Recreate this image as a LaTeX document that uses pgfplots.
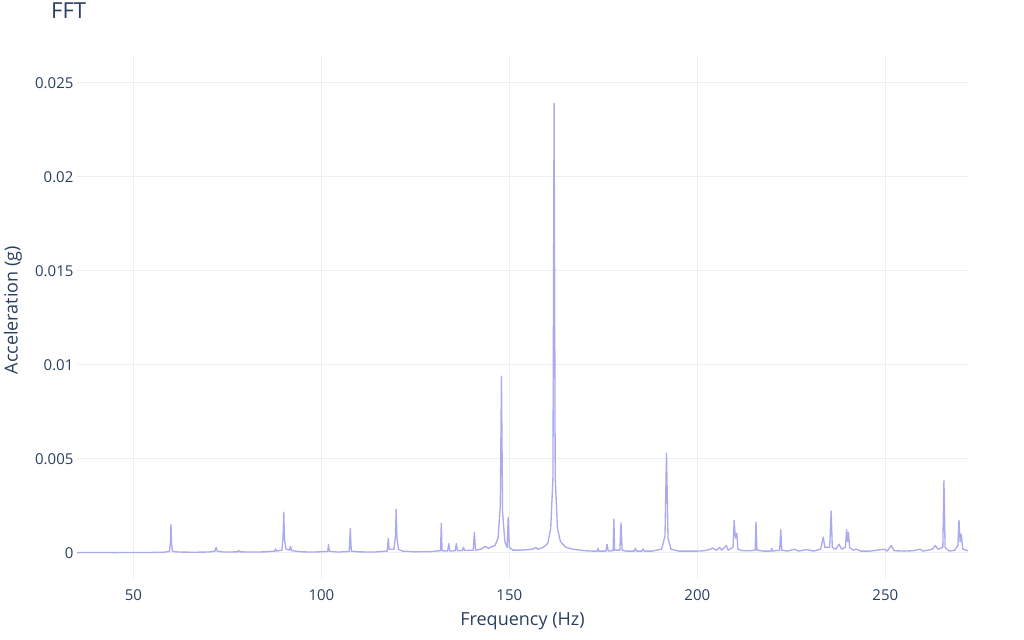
\documentclass[border=0pt]{standalone}
\usepackage{fontspec}
\setmainfont{Open Sans}
\usepackage{pgfplots}
\pgfplotsset{compat=1.18}
\definecolor{txt}{RGB}{42,63,95}
\definecolor{gridc}{RGB}{236,239,244}
\definecolor{linec}{RGB}{170,170,240}
\begin{document}
\begin{tikzpicture}
\path[use as bounding box] (0,0) rectangle (768pt,479.25pt);
\begin{axis}[
  at={(57.75pt,45.75pt)}, anchor=south west,
  scale only axis, width=668.25pt, height=391.5pt,
  xmin=35, xmax=272, ymin=-0.00133, ymax=0.02642,
  axis line style={draw=none},
  major tick length=0pt,
  xtick={50,100,150,200,250},
  ytick={0,0.005,0.01,0.015,0.02,0.025},
  yticklabels={0,0.005,0.01,0.015,0.02,0.025},
  scaled y ticks=false,
  grid=major, grid style={gridc, line width=0.75pt},
  /pgf/number format/assume math mode=true,
  tick label style={font=\fontsize{11.25}{13}\selectfont, text=txt},
  xticklabel style={anchor=center, yshift=-12.5pt},
  yticklabel style={anchor=east, inner sep=0pt, xshift=-2.5pt},
  xlabel={Frequency (Hz)}, ylabel={Acceleration (g)},
  label style={font=\fontsize{13.5}{16}\selectfont, text=txt},
  xlabel style={at={(axis description cs:0.5,-0.0824)}, anchor=center},
  ylabel style={at={(axis description cs:-0.0718,0.513)}, anchor=center},
  every axis title shift=0pt,
  title={FFT},
  title style={at={(axis description cs:-0.0292,1.087)}, anchor=west, inner sep=0pt,
    font=\fontsize{16.5}{19}\selectfont, text=txt},
]
\addplot[linec, line width=1pt, line join=round, mark=none] table {
35 0.00002
40 0.00003
45 0.00002
50 0.00003
55 0.00003
58 0.00004
59.6 0.00008
59.85 0.0006
60.0 0.00153
60.15 0.0005
60.4 0.00008
62 0.00005
66 0.00004
70 0.00005
71.7 0.0001
72.0 0.0003
72.3 0.0001
74 0.00005
77.7 0.00006
78.0 0.00013
78.3 0.00006
82 0.00005
85 0.00006
87.6 0.0001
87.8 0.00022
88.0 0.0001
89.5 0.00015
89.8 0.0008
90.0 0.00217
90.2 0.0007
90.6 0.0002
91.5 0.00015
91.8 0.00035
92.1 0.00012
95 0.00006
98 0.00005
101.7 0.00008
101.9 0.00046
102.1 0.0001
103 0.00007
104.5 0.00005
107.4 0.00008
107.7 0.0013
107.95 0.0001
110 0.00006
114 0.00005
117.5 0.0001
117.8 0.00078
118.0 0.0002
119.3 0.0002
119.7 0.0009
119.9 0.00232
120.1 0.0008
120.5 0.0002
121.5 0.0001
125 0.00006
129 0.00007
130.5 0.0001
131.7 0.00012
131.9 0.00158
132.1 0.00012
133.6 0.0001
133.9 0.0005
134.2 0.0001
135.6 0.00012
135.9 0.0005
136.2 0.00012
137.5 0.00013
137.8 0.0003
138.1 0.00013
140.4 0.00015
140.7 0.0011
141.0 0.00015
142.5 0.0002
143.6 0.00035
144.5 0.00025
145 0.0003
146.2 0.0004
147.0 0.0008
147.6 0.0025
147.9 0.0094
148.2 0.0022
148.8 0.0006
149.4 0.0003
149.7 0.0019
150.0 0.0003
151 0.00015
153 0.00015
155 0.00018
156.5 0.00022
157 0.0003
157.5 0.0002
159 0.0003
160.2 0.0005
161.0 0.0013
161.6 0.004
161.9 0.0239
162.2 0.004
162.8 0.0013
163.6 0.0006
165 0.0003
167 0.0002
170 0.00012
172 0.0001
173.4 0.0001
173.6 0.00025
173.8 0.0001
175.7 0.0001
176.0 0.00046
176.3 0.0001
177.6 0.00012
177.8 0.0018
178.0 0.00015
179.4 0.00015
179.7 0.0016
180.0 0.00015
181 0.0001
183.2 0.0001
183.5 0.00025
183.8 0.0001
185.3 0.0001
185.6 0.00022
185.9 0.0001
188 0.0001
190.5 0.0002
191.4 0.0009
191.8 0.0053
192.2 0.0008
193 0.0002
195 0.0001
198 0.0001
200 0.0001
202 0.00012
203.5 0.0002
204 0.00027
204.5 0.0002
205.2 0.00015
205.9 0.0003
206.5 0.00015
207.7 0.0004
208.2 0.00015
209.5 0.0003
209.8 0.00174
210.1 0.0008
210.5 0.00105
210.8 0.0002
212 0.00012
214 0.00012
215.4 0.00015
215.6 0.00165
215.85 0.00015
217.5 0.0001
219.6 0.0001
219.8 0.00025
220.0 0.0001
221.9 0.00015
222.2 0.00124
222.45 0.00015
224 0.0001
225.8 0.0002
227 0.0001
229 0.00018
231 0.0001
232.8 0.0002
233.5 0.00085
233.9 0.0003
235.2 0.0003
235.6 0.00223
235.9 0.0003
236.8 0.0002
237.7 0.00046
238.4 0.0002
239.4 0.0003
239.7 0.00124
240.0 0.0006
240.2 0.0011
240.5 0.0003
241.5 0.00015
242.3 0.0002
243.5 0.0001
246 0.0001
249.7 0.0002
250.5 0.0001
251.6 0.0004
252.3 0.00012
255 0.0001
257.5 0.00012
259.3 0.0002
260 0.0001
262.5 0.0002
263.3 0.0004
264 0.0002
265.3 0.0003
265.6 0.00387
265.9 0.0003
267 0.0001
268.5 0.00015
269.3 0.0004
269.6 0.00174
269.9 0.0006
270.2 0.001
270.6 0.0002
272 0.00012
};
\end{axis}
\end{tikzpicture}
\end{document}
